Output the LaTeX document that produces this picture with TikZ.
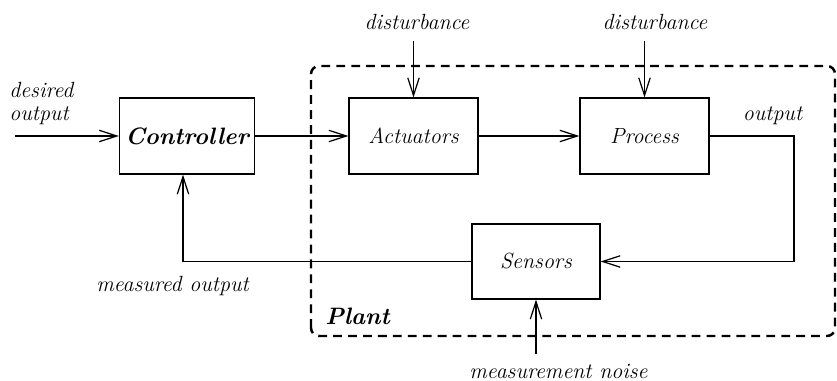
\documentclass[tikz,border=0pt]{standalone}
\usetikzlibrary{arrows.meta}
\begin{document}
		\begin{tikzpicture}[
			block/.style={draw, line width=0.7pt, minimum width=2.58cm, minimum height=1.52cm, font=\fontsize{12.5}{14}\selectfont\itshape},
			lbl/.style={font=\fontsize{12.5}{13}\selectfont\itshape, inner sep=0pt},
			arr/.style={line width=0.7pt, -{Straight Barb[length=10pt, width=6.5pt, line width=0.7pt]}},
			plantbox/.style={line width=1.4pt, dash pattern=on 5pt off 3.5pt, rounded corners=0.16cm}
		]
			\useasboundingbox (0, 0) rectangle (16.74, 7.62);
			\draw [plantbox] (6.22, 0.9) rectangle (16.7, 6.3);
			\node [block, minimum width=2.64cm, font=\fontsize{13.5}{16}\selectfont\bfseries\itshape] (ctrl) at (3.74, 4.9) {Controller};
			\node [block] (act) at (8.27, 4.9) {Actuators};
			\node [block] (proc) at (12.89, 4.9) {Process};
			\node [block, minimum width=2.56cm, minimum height=1.5cm] (sens) at (10.72, 2.39) {Sensors};
			\coordinate (in) at (0.3, 4.9);
			\coordinate (d1) at ([yshift=1.12cm]act.north);
			\coordinate (d2) at ([yshift=1.12cm]proc.north);
			\coordinate (outc) at (15.88, 4.9);
			\coordinate (noise) at ([yshift=-1.08cm]sens.south);
			\node [lbl, align=left, anchor=west] (want) at (0.18, 5.55) {desired\\output};
			\node [lbl] (dist1) at (8.34, 7.18) {disturbance};
			\node [lbl] (dist2) at (13.1, 7.18) {disturbance};
			\node [lbl] (out) at (15.45, 5.3) {output};
			\node [lbl] (meas) at (3.45, 1.9) {measured output};
			\node [lbl] (noisetxt) at (11.17, 0.2) {measurement noise};
			\node [lbl, anchor=west, font=\fontsize{13.5}{16}\selectfont\bfseries\itshape] (plant) at (6.5, 1.3) {Plant};
			\draw [arr] (in) -- (ctrl.west);
			\draw [arr] (ctrl.east) -- (act.west);
			\draw [arr] (act.east) -- (proc.west);
			\draw [arr] (d1) -- (act.north);
			\draw [arr] (d2) -- (proc.north);
			\draw [arr] (proc.east) -- (outc) |- (sens.east);
			\draw [arr] (sens.west) -| ([xshift=-0.8mm]ctrl.south);
			\draw [arr] (noise) -- (sens.south);
		\end{tikzpicture}
\end{document}
